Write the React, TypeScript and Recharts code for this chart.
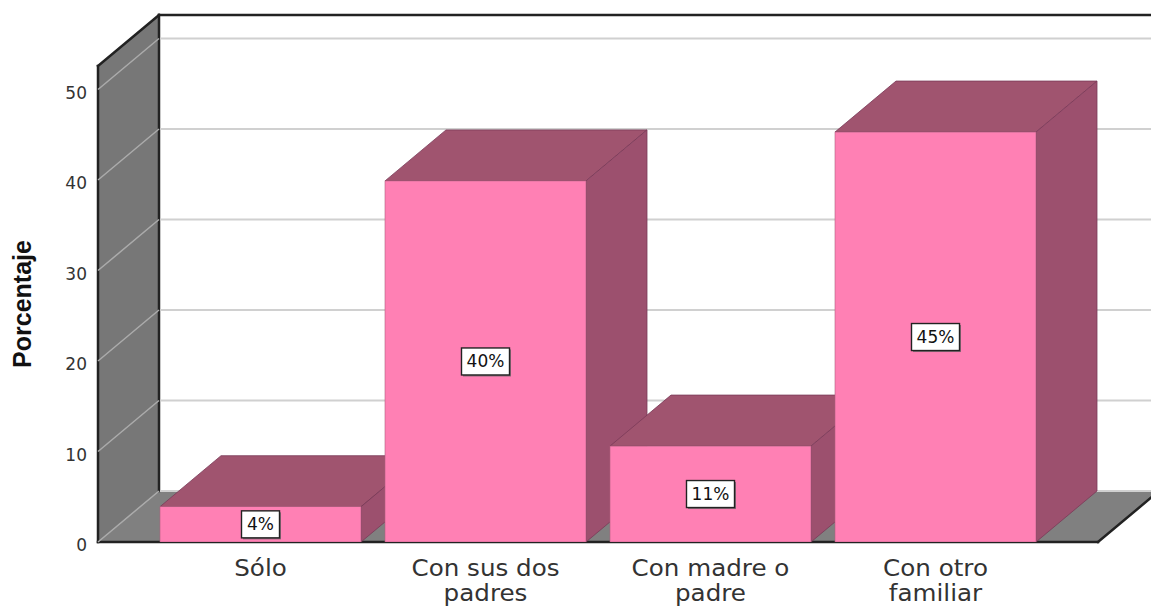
import {
  Bar,
  BarChart,
  LabelList,
  ReferenceArea,
  ReferenceLine,
  XAxis,
  YAxis,
} from "recharts";

const CATEGORIES = [
  "Sólo",
  "Con sus dos padres",
  "Con madre o padre",
  "Con otro familiar",
];
const PERCENTAGES = [3.9, 39.9, 10.6, 45.3];
const Y_TICKS = [0, 10, 20, 30, 40, 50];
const Y_MAX = 52.6;

// oblique depth of the 3D box, and the empty space left/right of the bars
const DX = 61;
const DY = 51;
const PAD = 50;

const FRONT = "#FF80B4";
const TOP = "#A0546F";
const SIDE = "#9C506E";
const EDGE = "#7A3A58";
const WALL = "#777777";
const FLOOR = "#808080";
const INK = "#222222";

const data = CATEGORIES.map((name, i) => ({ name, value: PERCENTAGES[i] }));

function wrapWords(text: string, max: number) {
  const lines: string[] = [];
  let cur = "";
  for (const w of text.split(" ")) {
    const next = cur ? cur + " " + w : w;
    if (next.length > max && cur) {
      lines.push(cur);
      cur = w;
    } else {
      cur = next;
    }
  }
  if (cur) lines.push(cur);
  return lines;
}

// the area covers the padded category range, so widen it back by PAD
function Walls(props: any) {
  const x = props.x - PAD;
  const w = props.width + 2 * PAD;
  const { y, height: h } = props;
  return (
    <g>
      <rect x={x + DX} y={y - DY} width={w} height={h} fill="#fff" />
      <polygon
        points={`${x},${y} ${x + DX},${y - DY} ${x + DX},${y + h - DY} ${x},${y + h}`}
        fill={WALL}
      />
      <polygon
        points={`${x},${y + h} ${x + DX},${y + h - DY} ${x + w + DX},${y + h - DY} ${x + w},${y + h}`}
        fill={FLOOR}
      />
      <g stroke={INK} strokeWidth={2.5} fill="none" strokeLinecap="square">
        <line x1={x} y1={y} x2={x} y2={y + h} />
        <line x1={x} y1={y} x2={x + DX} y2={y - DY} />
        <line x1={x + DX} y1={y - DY} x2={x + DX} y2={y + h - DY} />
        <line x1={x + DX} y1={y - DY} x2={x + w + DX + 20} y2={y - DY} />
        <line x1={x} y1={y + h} x2={x + w} y2={y + h} />
        <line x1={x + w} y1={y + h} x2={x + w + DX} y2={y + h - DY} />
      </g>
    </g>
  );
}

function GridLine(props: any) {
  const { x1, y1, x2 } = props;
  return (
    <g fill="none">
      <line x1={x1} y1={y1} x2={x1 + DX} y2={y1 - DY} stroke="#ABABAB" strokeWidth={1.5} />
      <line x1={x1 + DX + 1} y1={y1 - DY} x2={x2 + DX + 20} y2={y1 - DY} stroke="#D0D0D0" strokeWidth={2} />
    </g>
  );
}

function Bar3D(props: any) {
  const { x, y, width: w, height: h } = props;
  if (!w || h == null) return null;
  return (
    <g>
      <polygon
        points={`${x},${y} ${x + DX},${y - DY} ${x + w + DX},${y - DY} ${x + w},${y}`}
        fill={TOP}
        stroke={EDGE}
        strokeWidth={0.8}
      />
      <polygon
        points={`${x + w},${y} ${x + w + DX},${y - DY} ${x + w + DX},${y + h - DY} ${x + w},${y + h}`}
        fill={SIDE}
        stroke={EDGE}
        strokeWidth={0.8}
      />
      <rect x={x} y={y} width={w} height={h} fill={FRONT} stroke="#B0607F" strokeWidth={0.6} />
    </g>
  );
}

function ValueBox(props: any) {
  const { x, y, width, height, value } = props;
  const text = `${Math.round(Number(value))}%`;
  const bw = text.length * 10 + 18;
  const bh = 27;
  const cx = x + width / 2;
  const cy = y + height / 2;
  return (
    <g>
      <rect x={cx - bw / 2 + 1.5} y={cy - bh / 2 + 1.5} width={bw} height={bh} fill="#8a6a78" />
      <rect x={cx - bw / 2} y={cy - bh / 2} width={bw} height={bh} fill="#fff" stroke={INK} strokeWidth={1.4} />
      <text
        x={cx}
        y={cy + 6}
        textAnchor="middle"
        fontFamily="DejaVu Sans"
        fontSize={17}
        fill="#111"
      >
        {text}
      </text>
    </g>
  );
}

// category labels are a little wider than the font, so stretch them sideways
function XTick(props: any) {
  const { x, y, payload } = props;
  const lines = wrapWords(String(payload.value), 11);
  return (
    <g transform={`translate(${x},${y}) scale(1.07,1)`}>
      <text textAnchor="middle" fontFamily="DejaVu Sans" fontSize={23} fill="#333">
        {lines.map((l, i) => (
          <tspan key={i} x={0} y={34 + i * 25}>
            {l}
          </tspan>
        ))}
      </text>
    </g>
  );
}

function YTick(props: any) {
  const { x, y, payload } = props;
  return (
    <text x={x - 11} y={y + 9} textAnchor="end" fontFamily="DejaVu Sans" fontSize={17} fill="#333">
      {payload.value}
    </text>
  );
}

function YTitle(props: any) {
  const vb = props.viewBox || {};
  const tx = vb.x - 7;
  const ty = vb.y + vb.height / 2;
  return (
    <text
      x={tx}
      y={ty}
      transform={`rotate(-90, ${tx}, ${ty})`}
      textAnchor="middle"
      fontFamily="Liberation Sans"
      fontWeight="bold"
      fontSize={25}
      fill="#111"
    >
      Porcentaje
    </text>
  );
}

export default function App() {
  return (
    <div style={{ position: "absolute", left: 0, top: 0, width: 1151, height: 606, overflow: "hidden", background: "#fff" }}>
      <BarChart
        width={1151}
        height={606}
        data={data}
        margin={{ top: 66, right: 53, bottom: 4, left: 38 }}
        barCategoryGap={12}
      >
        <XAxis
          dataKey="name"
          height={60}
          padding={{ left: PAD, right: PAD }}
          axisLine={false}
          tickLine={false}
          tickSize={0}
          tickMargin={0}
          interval={0}
          tick={<XTick />}
        />
        <YAxis
          width={60}
          domain={[0, Y_MAX]}
          ticks={Y_TICKS}
          allowDataOverflow
          axisLine={false}
          tickLine={false}
          tickSize={0}
          tickMargin={0}
          tick={<YTick />}
          label={{ content: (p: any) => <YTitle {...p} /> }}
        />
        <ReferenceArea
          y1={0}
          y2={Y_MAX}
          ifOverflow="visible"
          zIndex={-200}
          shape={(p: any) => <Walls {...p} />}
        />
        {Y_TICKS.map((t) => (
          <ReferenceLine
            key={t}
            y={t}
            ifOverflow="visible"
            zIndex={-150}
            shape={(p: any) => <GridLine {...p} />}
          />
        ))}
        <Bar dataKey="value" isAnimationActive={false} shape={(p: any) => <Bar3D {...p} />}>
          <LabelList dataKey="value" content={(p: any) => <ValueBox {...p} />} />
        </Bar>
      </BarChart>
    </div>
  );
}
